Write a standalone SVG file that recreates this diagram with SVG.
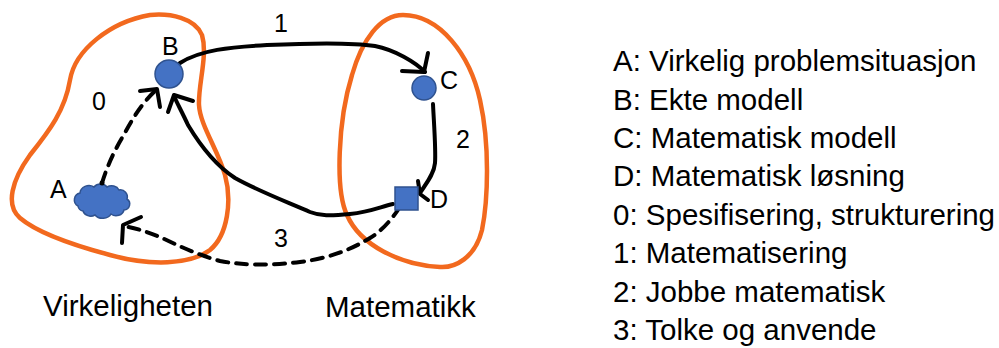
<svg xmlns="http://www.w3.org/2000/svg" width="999" height="348" viewBox="0 0 999 348">
<defs>
<style>
.region{fill:none;stroke:#F2691E;stroke-width:4.5;stroke-linejoin:round}
.node{fill:#4472C4;stroke:#2F528F;stroke-width:1.5}
.edge{fill:none;stroke:#000;stroke-width:4;stroke-linecap:round;stroke-linejoin:round}
.dash{stroke-dasharray:11 8}
text{font-family:"Liberation Sans",Arial,sans-serif;fill:#000}
.lbl{font-size:25px}
.big{font-size:29.5px}
</style>
</defs>
<rect width="999" height="348" fill="#fff"/>
<g id="regions">
<path id="virkeligheten-region" class="region" d="M150,15 C170,13 195,18 202,35 C208,55 198,85 199,105 C200,125 218,150 225,175 C232,200 228,235 210,250 C190,265 150,266 110,255 C80,247 40,235 20,218 C5,205 12,180 30,155 C50,130 65,110 70,80 C75,50 110,22 150,15 Z"/>
<path id="matematikk-region" class="region" d="M403,15 C440,15 470,55 480,100 C490,145 488,200 482,230 C475,258 455,268 440,267 C400,265 360,245 347,215 C335,190 338,120 352,75 C362,40 380,15 403,15 Z"/>
</g>
<g id="connectors">
<path class="edge" d="M180,63 C200,50 230,47 267,45 C310,43 350,42 375,46 C395,50 415,62 425,72"/>
<path class="edge" d="M402,71 L424,72 L428,53"/>
<path class="edge" d="M433,104 C434,125 436,150 435,163 C434,175 425,185 420,193"/>
<path class="edge" d="M418,181 L420,194 L428,200"/>
<path class="edge" d="M393,204 C380,207 370,212 350,214 C330,216 320,216 310,212 C290,203 260,192 235,178 C215,165 200,145 188,125 C182,112 177,103 174,96"/>
<path class="edge" d="M168,112 L174,95 L193,101"/>
<path class="edge dash" d="M102,183 C106,170 112,155 122,138 C132,120 140,105 156,90"/>
<path class="edge" d="M140,91 L157,89 L160,107"/>
<path class="edge dash" d="M400,207 C390,222 380,232 370,238 C350,250 330,258 300,262 C270,266 240,265 220,261 C195,254 175,244 160,237 C145,231 135,228 123,226"/>
<path class="edge" d="M141,217 L123,225 L122,243"/>
</g>
<g id="node-A">
<path class="node" d="M78,206 a7,7 0 0 1 2,-13 a9,8 0 0 1 14,-6 a8,7 0 0 1 13,0 a8,7 0 0 1 12,3 a7,7 0 0 1 8,9 a6,6 0 0 1 -3,11 a8,7 0 0 1 -13,4 a9,7 0 0 1 -16,1 a8,7 0 0 1 -12,-4 a6,6 0 0 1 -5,-5 Z"/>
<circle cx="102" cy="183" r="2.5" fill="#000"/>
<text class="lbl" x="50" y="198">A</text>
</g>
<g id="node-B">
<circle class="node" cx="169" cy="74" r="14"/>
<text class="lbl" x="162" y="55">B</text>
</g>
<g id="node-C">
<circle class="node" cx="424" cy="88" r="12"/>
<text class="lbl" x="440" y="89">C</text>
</g>
<g id="node-D">
<rect class="node" x="395" y="187" width="23" height="23"/>
<text class="lbl" x="430" y="208">D</text>
</g>
<g id="edge-labels">
<text class="lbl" x="92" y="110">0</text>
<text class="lbl" x="274" y="32">1</text>
<text class="lbl" x="456" y="148">2</text>
<text class="lbl" x="274" y="247">3</text>
</g>
<g id="region-labels">
<text class="big" x="43" y="316">Virkeligheten</text>
<text class="big" x="325" y="317">Matematikk</text>
</g>
<g id="legend" class="big">
<text x="613" y="71">A: Virkelig problemsituasjon</text>
<text x="613" y="109.5">B: Ekte modell</text>
<text x="613" y="148">C: Matematisk modell</text>
<text x="613" y="186">D: Matematisk løsning</text>
<text x="613" y="224.5">0: Spesifisering, strukturering</text>
<text x="613" y="263">1: Matematisering</text>
<text x="613" y="301.5">2: Jobbe matematisk</text>
<text x="613" y="340">3: Tolke og anvende</text>
</g>
</svg>
